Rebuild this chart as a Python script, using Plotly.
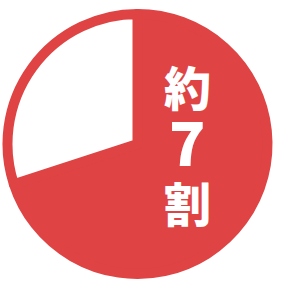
import plotly.graph_objects as go

slice_labels = ["約7割", "その他"]
slice_values = [70, 30]
slice_colors = ["#DF4343", "#FFFFFF"]
text_chars = ["約", "7", "割"]

W, H = 297, 282
cx, cy, R = 137.5, 144.0, 130.0
fig = go.Figure(go.Pie(
    labels=slice_labels,
    values=slice_values,
    sort=False,
    direction="clockwise",
    rotation=0,
    marker=dict(colors=slice_colors, line=dict(color="#DF4343", width=10)),
    textinfo="none",
    hoverinfo="skip",
    showlegend=False,
    domain=dict(x=[max(0, (cx - R) / W), (cx + R) / W],
                y=[max(0, (H - cy - R) / H), min(1, (H - cy + R) / H)]),
))

ys = [85, 139, 201]
sizes = [47, 60, 47]
for ch, yy, sz in zip(text_chars, ys, sizes):
    fig.add_annotation(
        x=187 / W, y=(H - yy) / H, xref="paper", yref="paper",
        text=ch, showarrow=False, xanchor="center", yanchor="middle",
        font=dict(family="Noto Sans CJK JP", size=sz, color="white", weight=900),
    )

fig.update_layout(
    width=W, height=H,
    margin=dict(l=0, r=0, t=0, b=0),
    paper_bgcolor="white", plot_bgcolor="white",
)
fig.write_html("out.html", config={"displayModeBar": False, "staticPlot": True},
               post_script="document.body.style.margin='0';")
